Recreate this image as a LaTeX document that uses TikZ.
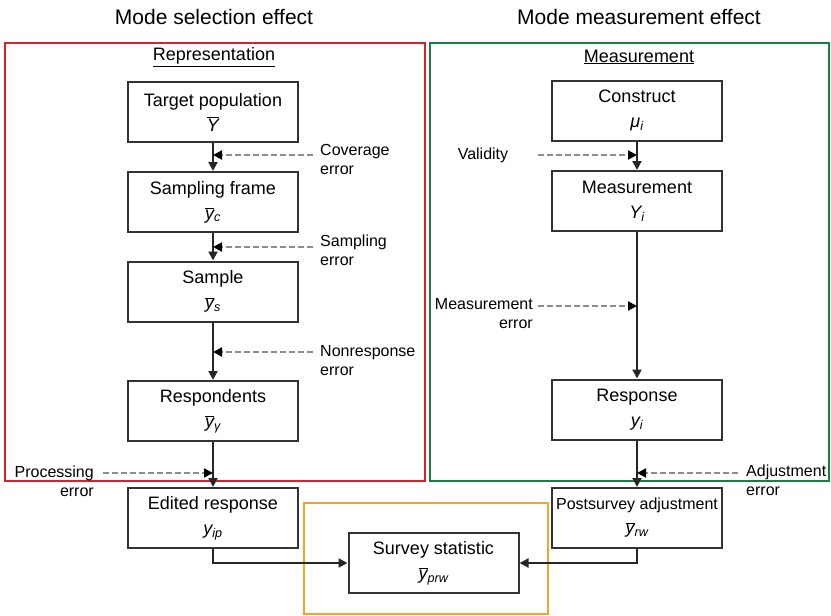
\documentclass[tikz,border=0pt]{standalone}
\usepackage{fontspec}
\setmainfont{Liberation Sans}
\usetikzlibrary{arrows.meta}
\definecolor{redframe}{RGB}{214,35,42}
\definecolor{greenframe}{RGB}{22,128,68}
\definecolor{orangeframe}{RGB}{247,162,38}
\newcommand{\ovl}[1]{$\overline{\mbox{\itshape #1}}$}
\newcommand{\subi}[1]{\textsubscript{\itshape #1}}

\begin{document}
\begin{tikzpicture}[x=1pt,y=-1pt,
  box/.style={draw=black!80, line width=2pt, fill=white, rectangle, minimum width=170pt, minimum height=60pt, align=center, inner sep=2pt, font=\fontsize{18}{25}\selectfont},
  flow/.style={-{Triangle[length=9pt,width=9pt]}, line width=2pt, black!85},
  err/.style={-{Triangle[length=9pt,width=9pt,black]}, line width=2pt, black!45, dash pattern=on 6pt off 3pt},
  errlbl/.style={font=\fontsize{16}{19}\selectfont, inner sep=0pt},
  frame/.style={line width=2.2pt}]
\useasboundingbox (0,0) rectangle (831,616);
\draw[frame,redframe] (5,43) rectangle (425,481);
\draw[frame,greenframe] (430,43) rectangle (829,481);
\draw[frame,orangeframe] (304,503) rectangle (548,614);
\node[font=\fontsize{21}{24}\selectfont] (ttlsel) at (214,17) {Mode selection effect};
\node[font=\fontsize{21}{24}\selectfont] (ttlmeas) at (639,17) {Mode measurement effect};
\node[font=\fontsize{18}{22}\selectfont] (hrep) at (214,57) {\underline{Representation}};
\node[font=\fontsize{18}{22}\selectfont] (hmeas) at (639,57) {\underline{Measurement}};
\node[box] (tp) at (213,112) {Target population\\\ovl{Y}};
\node[box] (sf) at (213,202) {Sampling frame\\\ovl{y}\subi{c}};
\node[box] (smp) at (213,291.5) {Sample\\\ovl{y}\subi{s}};
\node[box] (resp) at (213,411) {Respondents\\\ovl{y}\subi{γ}};
\node[box] (edit) at (213,518) {Edited response\\\itshape y\subi{ip}};
\node[box] (con) at (637,110.5) {Construct\\\itshape μ\subi{i}};
\node[box] (meas) at (637,201) {Measurement\\\itshape Y\subi{i}};
\node[box] (rsp) at (637,409.5) {Response\\\itshape y\subi{i}};
\node[box, font=\fontsize{16}{24}\selectfont] (post) at (637,518) {Postsurvey adjustment\\{\fontsize{18}{24}\selectfont\ovl{y}\subi{rw}}};
\node[box] (stat) at (433.5,563) {Survey statistic\\\ovl{y}\subi{prw}};
\draw[flow] (tp) -- (sf);
\draw[flow] (sf) -- (smp);
\draw[flow] (smp) -- (resp);
\draw[flow] (resp) -- (edit);
\draw[flow] (con) -- (meas);
\draw[flow] (meas) -- (rsp);
\draw[flow] (rsp) -- (post);
\draw[flow] (edit.south) |- (stat.west);
\draw[flow] (post.south) |- (stat.east);
% error sources
\coordinate (covs) at (313,155);
\coordinate (samps) at (313,247);
\coordinate (nons) at (313,352);
\coordinate (procs) at (103,473);
\coordinate (vals) at (538,155);
\coordinate (merrs) at (538,306);
\coordinate (adjs) at (738,473);
\draw[err] (covs) -- (covs -| tp.south);
\draw[err] (samps) -- (samps -| tp.south);
\draw[err] (nons) -- (nons -| tp.south);
\draw[err] (procs) -- (procs -| tp.south);
\draw[err] (vals) -- (vals -| con.south);
\draw[err] (merrs) -- (merrs -| con.south);
\draw[err] (adjs) -- (adjs -| con.south);
\node[errlbl, anchor=west, align=left] (covlbl) at (320,159) {Coverage\\error};
\node[errlbl, anchor=west, align=left] (samplbl) at (320,250) {Sampling\\error};
\node[errlbl, anchor=west, align=left] (nonlbl) at (320,360.5) {Nonresponse\\error};
\node[errlbl, anchor=east, align=right] (proclbl) at (94,481) {Processing\\error};
\node[errlbl] (vallbl) at (483,155) {Validity};
\node[errlbl, anchor=east, align=right] (merrlbl) at (533,313.5) {Measurement\\error};
\node[errlbl, anchor=west, align=left] (adjlbl) at (746,480.5) {Adjustment\\error};
\end{tikzpicture}
\end{document}
